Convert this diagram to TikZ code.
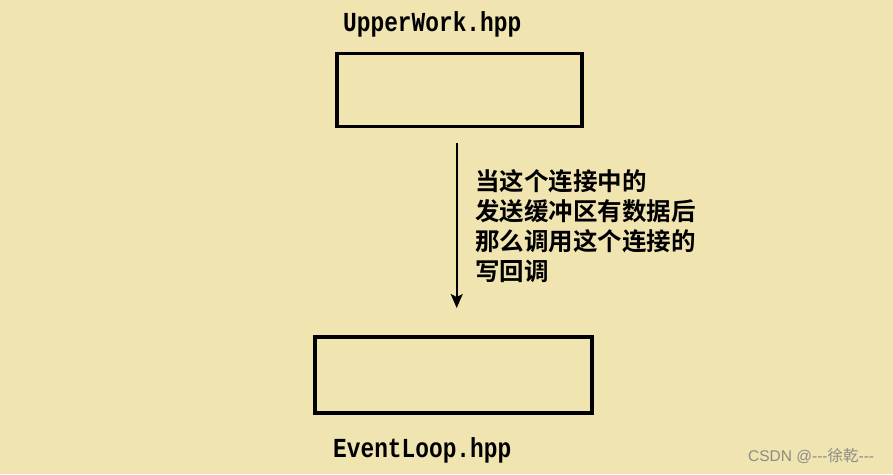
\documentclass[tikz,border=0pt]{standalone}
\usepackage{fontspec}
\usetikzlibrary{arrows.meta}
\setmainfont{Liberation Sans}
\newfontfamily\cjk{Noto Sans CJK SC}[BoldFont={* Bold}]
\newfontfamily\hppfont{Liberation Mono Bold}[FakeStretch=0.83]
\definecolor{paper}{RGB}{240,228,176}
\definecolor{mark}{RGB}{140,140,135}
\tikzset{
  box/.style={draw, line width=3.5pt, inner sep=0pt},
  file/.style={font=\hppfont\fontsize{27.5}{30}\selectfont, inner sep=0pt, anchor=base west},
  note/.style={font=\cjk\bfseries\fontsize{24.5}{30}\selectfont, align=left, inner sep=0pt, anchor=base west},
}
\begin{document}
\begin{tikzpicture}[x=1pt, y=-1pt]
    \fill[paper] (0, 0) rectangle (893, 474) ;
    \node[box, minimum width=245pt, minimum height=72.6pt] (upper) at (459.5, 90) {} ;
    \node[file] (upperlabel) at (343, 31) {UpperWork.hpp} ;
    \node[box, minimum width=277pt, minimum height=76pt] (loop) at (453.3, 375) {} ;
    \node[file] (looplabel) at (333, 457.3) {EventLoop.hpp} ;
    \coordinate (from) at (456.7, 143) ;
    \coordinate (to) at (456.7, 308) ;
    \draw[line width=1.7pt, -{Stealth[length=14pt, width=12pt, inset=3pt]}] (from) -- (to) ;
    % base anchor sits on the last line
    \node[note] (why) at (475, 280) {当这个连接中的\\发送缓冲区有数据后\\那么调用这个连接的\\写回调} ;
    \node[font=\fontsize{15.5}{18}\selectfont, text=mark, inner sep=0pt, anchor=base west] (csdn) at (748, 461) {CSDN @{-}{-}{-}{\cjk 徐乾}{-}{-}{-}} ;
\end{tikzpicture}
\end{document}
